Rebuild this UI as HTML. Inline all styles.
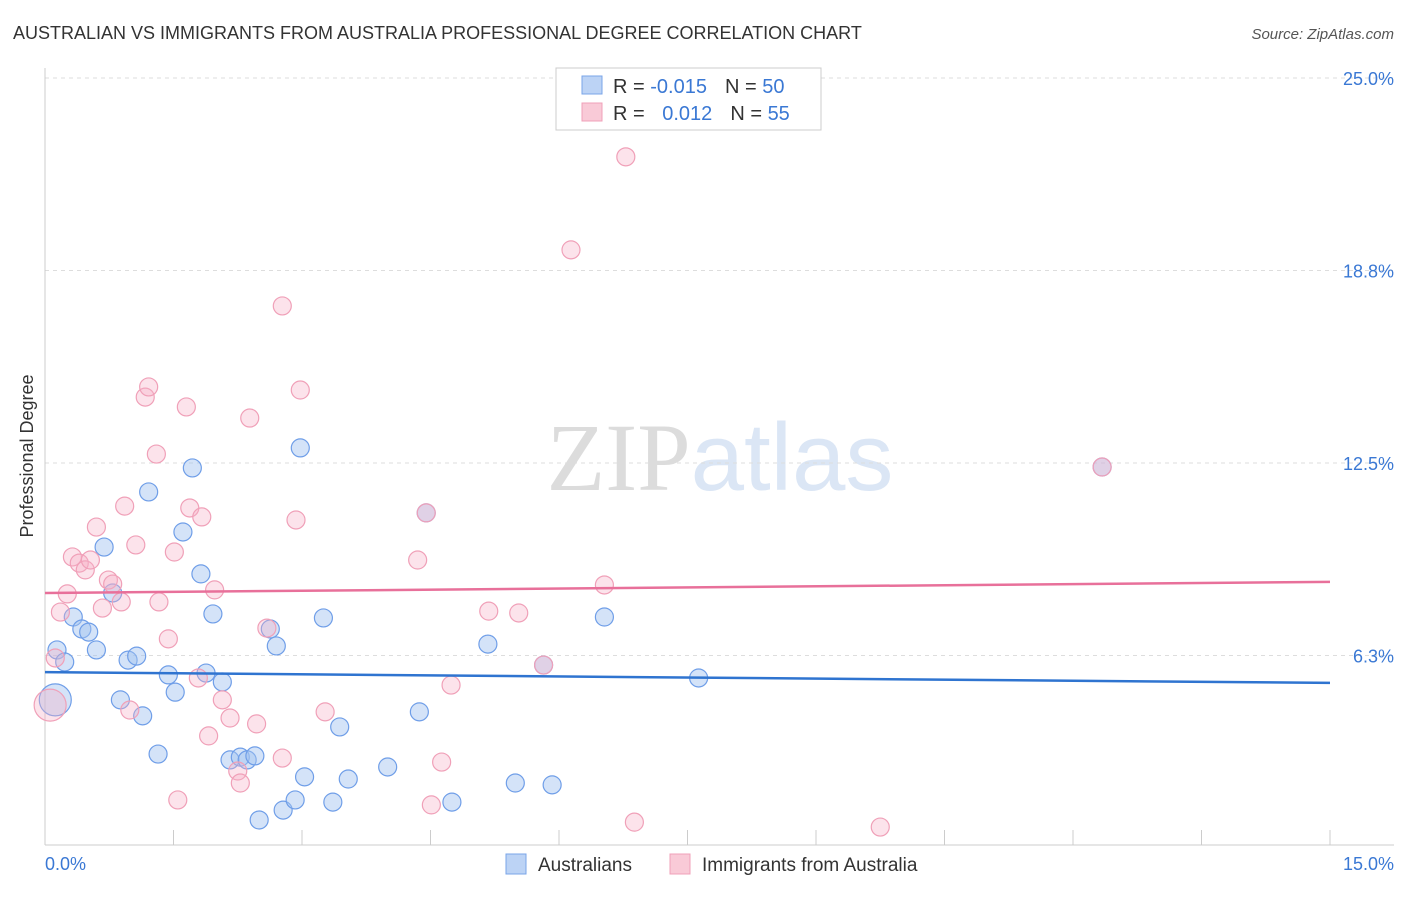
<!DOCTYPE html>
<html><head><meta charset="utf-8"><style>
body{margin:0;background:#fff;font-family:"Liberation Sans",sans-serif;}
svg text{font-family:"Liberation Sans",sans-serif;}
</style></head><body>
<svg id="chart" width="1406" height="892" xmlns="http://www.w3.org/2000/svg">
<text x="13" y="39" font-size="18" fill="#333">AUSTRALIAN VS IMMIGRANTS FROM AUSTRALIA PROFESSIONAL DEGREE CORRELATION CHART</text>
<text x="1394" y="39" font-size="15" fill="#555" text-anchor="end" font-style="italic">Source: ZipAtlas.com</text>
<text x="720" y="490" font-size="96" text-anchor="middle" fill="#e6e6e6"><tspan font-family="Liberation Serif" fill="#dcdcdc">ZIP</tspan><tspan fill="#dbe6f5">atlas</tspan></text>
<g id="grid"></g>
<g id="axes"></g>
<g id="points"></g>
<g id="trends"></g>
<text transform="translate(33,456) rotate(-90)" font-size="18" fill="#333" text-anchor="middle">Professional Degree</text>
<g>
<rect x="556" y="68" width="265" height="62" fill="#fff" stroke="#ccc"/>
<rect x="582" y="76" width="20" height="18" fill="#bcd3f5" stroke="#7aa5e8"/>
<rect x="582" y="103" width="20" height="18" fill="#f9cad7" stroke="#f0a0b8"/>
<text x="613" y="93" font-size="20" fill="#333">R = <tspan fill="#3a78d4">-0.015</tspan><tspan dx="18">N = </tspan><tspan fill="#3a78d4">50</tspan></text>
<text x="613" y="120" font-size="20" fill="#333">R = <tspan dx="12" fill="#3a78d4">0.012</tspan><tspan dx="18">N = </tspan><tspan fill="#3a78d4">55</tspan></text>
</g>
<g>
<rect x="506" y="854" width="20" height="20" fill="#bcd3f5" stroke="#7aa5e8"/>
<text x="538" y="871" font-size="19" fill="#333">Australians</text>
<rect x="670" y="854" width="20" height="20" fill="#f9cad7" stroke="#f0a0b8"/>
<text x="702" y="871" font-size="19" fill="#333">Immigrants from Australia</text>
</g>
</svg>
<script>
const yTicks=[6.25,12.5,18.75,25];
const yTickLabels=["6.3%","12.5%","18.8%","25.0%"];
const xLabels=["0.0%","15.0%"];
const blueX=[0.12,0.14,0.23,0.33,0.43,0.51,0.60,0.69,0.79,0.88,0.97,1.07,1.14,1.21,1.32,1.44,1.52,1.61,1.72,1.82,1.88,1.96,2.07,2.16,2.28,2.36,2.45,2.50,2.63,2.70,2.78,2.92,2.98,3.03,3.25,3.36,3.44,3.54,4.00,4.37,4.45,4.75,5.17,5.49,5.82,5.92,6.53,7.63,12.34];
const blueY=[4.81,6.43,6.04,7.50,7.11,7.01,6.43,9.77,8.28,4.81,6.10,6.23,4.29,11.56,3.05,5.62,5.06,10.26,12.34,8.90,5.68,7.60,5.39,2.86,2.95,2.86,2.99,0.91,7.11,6.56,1.23,1.56,12.99,2.31,7.47,1.49,3.93,2.24,2.63,4.42,10.88,1.49,6.62,2.11,5.94,2.05,7.50,5.52,12.37];
const pinkX=[0.06,0.12,0.18,0.26,0.32,0.40,0.47,0.53,0.60,0.67,0.74,0.79,0.89,0.93,0.99,1.06,1.17,1.21,1.30,1.33,1.44,1.51,1.55,1.65,1.69,1.79,1.83,1.91,1.98,2.07,2.16,2.25,2.28,2.39,2.47,2.59,2.77,2.77,2.93,2.98,3.27,4.35,4.51,4.63,4.74,5.18,5.53,5.82,6.14,6.53,6.78,6.88,9.75,4.45,12.34];
const pinkY=[4.64,6.17,7.66,8.25,9.45,9.25,9.03,9.35,10.42,7.79,8.70,8.57,7.99,11.10,4.48,9.84,14.64,14.97,12.79,7.99,6.79,9.61,1.56,14.32,11.04,5.52,10.75,3.64,8.38,4.81,4.22,2.50,2.11,13.96,4.03,7.14,17.60,2.92,10.65,14.87,4.42,9.35,1.40,2.79,5.29,7.69,7.63,5.94,19.42,8.54,22.44,0.84,0.68,10.88,12.37];
const blueTrend=[5.71,5.36];
const pinkTrend=[8.28,8.64];
const NS="http://www.w3.org/2000/svg";
const X0=45,X1=1330,XMAX=15,Y0=848,YPX=30.8;
function sx(v){return X0+(X1-X0)*v/XMAX;}
function sy(v){return Y0-v*YPX;}
function mk(tag,attrs,parent){const e=document.createElementNS(NS,tag);for(const k in attrs)e.setAttribute(k,attrs[k]);parent.appendChild(e);return e;}
const grid=document.getElementById('grid'),axes=document.getElementById('axes'),pts=document.getElementById('points'),tr=document.getElementById('trends');
yTicks.forEach((t,i)=>{
 const l=mk('line',{x1:X0,x2:1394,y1:sy(t),y2:sy(t),stroke:'#ddd','stroke-dasharray':'4,4'},grid);
 
 
 const tx=mk('text',{x:1394,y:sy(t)+7,'font-size':18,fill:'#3a78d4','text-anchor':'end'},axes);
 tx.textContent=yTickLabels[i];
 
 
});
const ya=mk('line',{x1:X0,x2:X0,y1:68,y2:845,stroke:'#ccc'},axes);


const xa=mk('line',{x1:X0,x2:1394,y1:845,y2:845,stroke:'#ccc'},axes);


for(let i=0;i<=10;i++){
 const t=mk('line',{x1:sx(i*1.5),x2:sx(i*1.5),y1:830,y2:845,stroke:'#ccc'},axes);
 
 
}
const xl0=mk('text',{x:45,y:870,'font-size':18,fill:'#3a78d4'},axes);xl0.textContent=xLabels[0];


const xl1=mk('text',{x:1394,y:870,'font-size':18,fill:'#3a78d4','text-anchor':'end'},axes);xl1.textContent=xLabels[1];


function dots(xs,ys,fill,stroke,name){
 xs.forEach((x,i)=>{
  const r=(i===0)?16:9;
  const c=mk('circle',{cx:sx(x),cy:sy(ys[i]),r:r,fill:fill,stroke:stroke,'stroke-width':1.2},pts);
  
  
 });
}
dots(blueX,blueY,'rgba(160,192,240,0.45)','#6f9ee8','australians-point');
dots(pinkX,pinkY,'rgba(245,175,198,0.35)','#f0a0b8','immigrants-point');
const bl=mk('line',{x1:sx(0),x2:sx(15),y1:sy(blueTrend[0]),y2:sy(blueTrend[1]),stroke:'#2f74d0','stroke-width':2.5},tr);


const pl=mk('line',{x1:sx(0),x2:sx(15),y1:sy(pinkTrend[0]),y2:sy(pinkTrend[1]),stroke:'#e8709a','stroke-width':2.5},tr);


</script>
</body></html>
